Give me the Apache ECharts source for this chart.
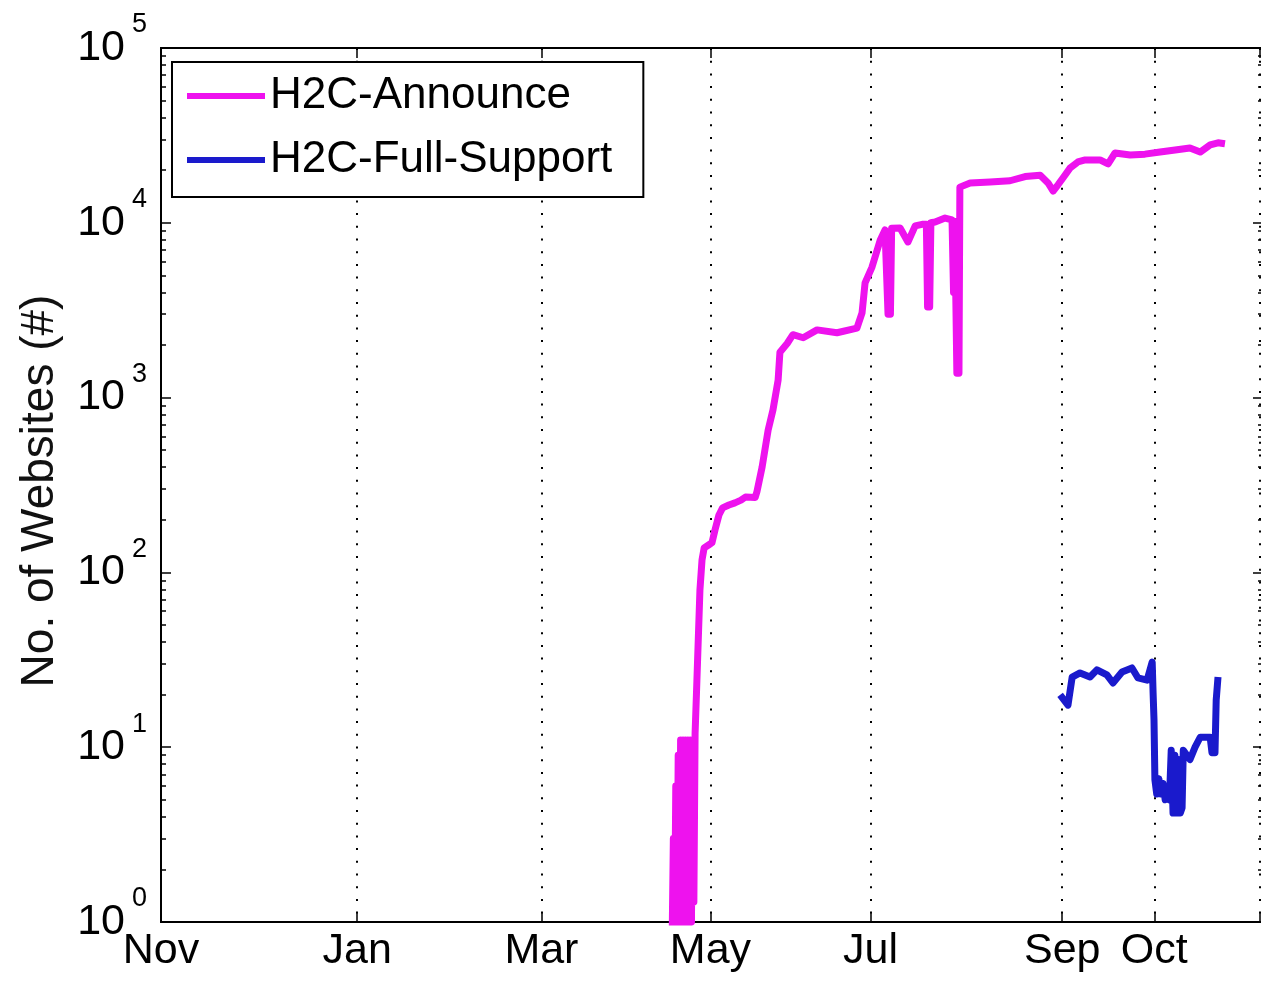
<!DOCTYPE html>
<html>
<head>
<meta charset="utf-8">
<script src="https://cdn.jsdelivr.net/npm/echarts@6.0.0/dist/echarts.min.js"></script>
<style>
  html, body { margin: 0; padding: 0; background: #fff; overflow: hidden; }
  #chart { width: 1266px; height: 982px; }
</style>
</head>
<body>
<div id="chart"></div>
<script>
// x is days counted from the Nov tick at the left edge of the axis
const monthDays   = [0, 65, 126, 182, 235, 298.5, 329]
const monthLabels = ['Nov', 'Jan', 'Mar', 'May', 'Jul', 'Sep', 'Oct']
const gridDays    = [0, 65, 126, 182, 235, 298.5, 329, 364]

const decades = [1, 10, 100, 1000, 10000, 100000]
const minorVals = [2, 3, 4, 5, 6, 7, 8, 9, 20, 30, 40, 50, 60, 70, 80, 90,
  200, 300, 400, 500, 600, 700, 800, 900, 2000, 3000, 4000, 5000, 6000, 7000, 8000, 9000,
  20000, 30000, 40000, 50000, 60000, 70000, 80000, 90000]

const announceDays = [169.3, 169.7, 170.1, 170.5, 170.9, 171.3, 171.7, 172.1, 172.5, 172.9,
  173.3, 173.7, 174.1, 174.5, 174.9, 175.3, 175.7, 176.1, 176.5, 176.9,
  177.5, 178.5, 179.2, 179.9,
  181.5, 182.5, 183.5, 184.8, 186.0, 188.1, 190.1, 192.1, 193.6, 196.8,
  197.4, 199.1, 201.1, 202.7, 204.4, 205.0, 207.4, 209.3, 212.7, 217.3,
  223.9, 230.5, 232.2, 233.2, 235.5, 238.2, 239.8, 240.4, 240.8, 241.6,
  242.0, 244.8, 247.4, 249.8, 252.1, 253.5, 253.9, 254.6, 255.0, 256.4,
  259.7, 262.0, 262.5, 262.9, 263.4, 263.6, 264.3, 264.6, 268.0, 274.6,
  281.2, 286.2, 291.2, 293.8, 295.5, 297.1, 299.4, 301.1, 303.7, 306.1,
  311.0, 313.7, 316.0, 321.0, 325.9, 330.9, 335.9, 340.8, 344.2, 347.5,
  350.1, 352.4]
const announceCount = [0.8, 3, 0.8, 6, 0.8, 9, 0.8, 11, 0.9, 11,
  0.8, 11, 1, 11, 0.9, 11, 1, 11, 1.3, 12,
  24, 79, 118, 138,
  144, 148, 175, 213, 234, 243, 250, 259, 270, 268,
  290, 401, 653, 850, 1260, 1820, 2040, 2290, 2200, 2440,
  2350, 2500, 3050, 4530, 5580, 7950, 9100, 9200, 3000, 3000,
  9300, 9340, 7770, 9600, 9800, 9800, 3300, 3300, 10000, 10100,
  10650, 10400, 4000, 10200, 10300, 1380, 1380, 16000, 16900, 17100,
  17400, 18400, 18700, 16900, 15200, 16500, 18700, 20600, 22300, 22900,
  22900, 21700, 25100, 24400, 24700, 25400, 26100, 26800, 25400, 27900,
  28700, 28300]

const fullDays = [297.8, 300.4, 301.8, 304.4, 307.7, 310.0, 313.3, 315.3, 318.3, 321.6,
  323.6, 326.6, 328.3, 328.6, 328.9, 329.2, 329.8, 330.5, 331.2, 331.9,
  332.6, 333.2, 334.0, 334.6, 335.2, 335.8, 336.4, 337.0, 337.6, 338.2,
  338.6, 340.8, 342.5, 344.2, 347.5, 348.1, 349.1, 349.5, 350.1]
const fullCount = [19.9, 17.4, 25.2, 26.6, 25.2, 27.7, 25.9, 23.3, 26.9, 28.4,
  24.9, 24.2, 30.7, 20.4, 14.3, 6.5, 5.4, 6.6, 5.4, 6.2,
  5.0, 5.5, 5.0, 9.6, 4.2, 9.0, 4.2, 8.5, 4.2, 4.5,
  9.6, 8.5, 10, 11.4, 11.4, 9.3, 9.3, 18.6, 25.2]

const seriesNames = ['H2C-Announce', 'H2C-Full-Support']
const colors = ['#ee12ee', '#1a1acc']
const font = "'Liberation Sans', Arial, sans-serif"

const pairs = (xs, ys) => xs.map((x, i) => [x, ys[i]])

const chart = echarts.init(document.getElementById('chart'), null, { renderer: 'canvas' })

const axisLine = { show: true, lineStyle: { color: '#000', width: 2 } }

const yBase = (position, values, len, labels) => ({
  type: 'log',
  logBase: 10,
  min: 1,
  max: 100000,
  position,
  axisLine,
  axisTick: { show: true, inside: true, length: len, customValues: values, lineStyle: { color: '#000', width: 1.5 } },
  axisLabel: labels ? {
    show: true,
    customValues: decades,
    margin: 14,
    formatter: v => `{b|10}{s|${Math.round(Math.log10(v))}}`,
    rich: {
      b: { fontSize: 43, fontFamily: font, color: '#000', lineHeight: 43 },
      s: { fontSize: 27, fontFamily: font, color: '#000', lineHeight: 27, padding: [0, 0, 46, 7] }
    }
  } : { show: false },
  splitLine: { show: false },
  minorTick: { show: false }
})

const option = {
  backgroundColor: '#fff',
  animation: false,
  grid: { left: 161, right: 3, top: 48, bottom: 60, containLabel: false },
  legend: {
    orient: 'vertical',
    left: 172,
    top: 62,
    padding: [12, 31, 15, 15],
    itemGap: 20,
    itemWidth: 78,
    itemHeight: 6,
    icon: 'rect',
    borderColor: '#000',
    borderWidth: 2,
    backgroundColor: '#fff',
    textStyle: { fontSize: 44, lineHeight: 43, color: '#000', fontFamily: font },
    data: seriesNames
  },
  xAxis: [{
    type: 'value',
    min: 0,
    max: 365,
    position: 'bottom',
    axisLine,
    axisTick: { show: true, inside: true, length: 10, customValues: gridDays, lineStyle: { color: '#000', width: 1.5 } },
    axisLabel: {
      customValues: monthDays,
      margin: 8,
      fontSize: 43,
      fontFamily: font,
      color: '#000',
      formatter: v => monthLabels[monthDays.indexOf(v)]
    },
    splitLine: { show: true, lineStyle: { color: '#000', width: 2, type: [2, 10.7] } }
  }, {
    type: 'value',
    min: 0,
    max: 365,
    position: 'top',
    axisLine,
    axisTick: { show: true, inside: true, length: 10, customValues: gridDays, lineStyle: { color: '#000', width: 1.5 } },
    axisLabel: { show: false },
    splitLine: { show: false }
  }],
  yAxis: [
    yBase('left', decades, 10, true),
    yBase('left', minorVals, 5, false),
    yBase('right', decades, 10, false),
    yBase('right', minorVals, 5, false)
  ],
  series: [{
    name: seriesNames[0],
    type: 'line',
    symbol: 'none',
    color: colors[0],
    lineStyle: { width: 7, color: colors[0], join: 'round' },
    data: pairs(announceDays, announceCount)
  }, {
    name: seriesNames[1],
    type: 'line',
    symbol: 'none',
    color: colors[1],
    lineStyle: { width: 7, color: colors[1], join: 'round' },
    data: pairs(fullDays, fullCount)
  }],
  graphic: [{
    type: 'text',
    left: 17,
    top: 'middle',
    rotation: Math.PI / 2,
    style: { text: 'No. of Websites (#)', fontSize: 46, fontFamily: font, fill: '#111' }
  }]
}

chart.setOption(option)
</script>
</body>
</html>
